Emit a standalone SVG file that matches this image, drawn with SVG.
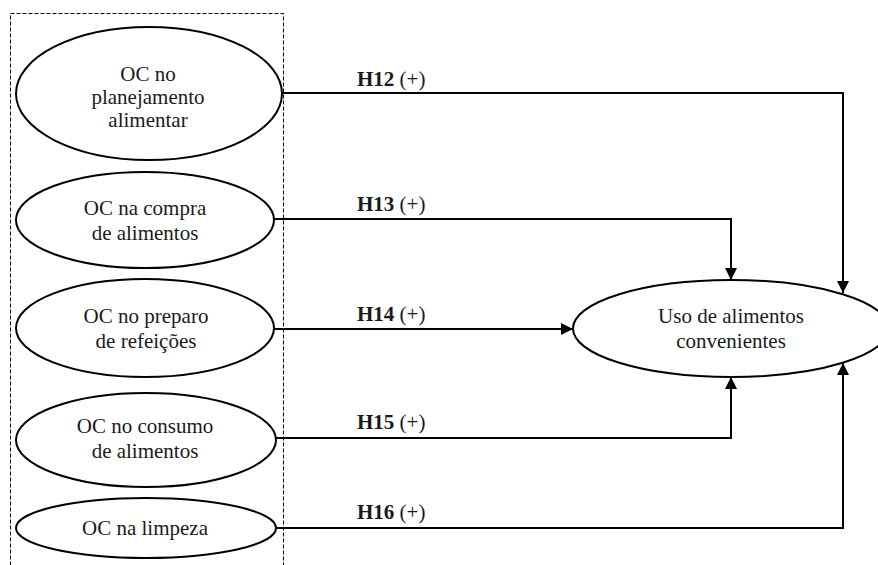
<svg xmlns="http://www.w3.org/2000/svg" width="878" height="565" viewBox="0 0 878 565">
  <style>
    .node ellipse { fill: #ffffff; stroke: #000000; stroke-width: 2; }
    .node text { font-size: 21px; fill: #1a1a1a; text-anchor: middle; }
    .edges path { fill: none; stroke: #000000; stroke-width: 2; }
    .lbl { font-size: 21px; fill: #1a1a1a; }
    .lbl .b { font-weight: bold; }
    .group-box { fill: none; stroke: #000000; stroke-width: 1; stroke-dasharray: 4 2; }
  </style>
  <defs>
    <marker id="arrow" viewBox="0 0 12 12" refX="12" refY="6" markerWidth="12" markerHeight="12" markerUnits="userSpaceOnUse" orient="auto">
      <path d="M0,0 L12,6 L0,12 Z" fill="#000000"/>
    </marker>
  </defs>
  <rect width="878" height="565" fill="#ffffff"/>

  <g font-family="Liberation Serif, DejaVu Serif, serif">
  <!-- grouping box around the antecedent constructs -->
  <rect class="group-box" x="10.5" y="13.5" width="273" height="570"/>

  <!-- connectors -->
  <g id="edges" class="edges">
    <path d="M282,93 H843 V293" marker-end="url(#arrow)"/>
    <path d="M274,219 H731 V280" marker-end="url(#arrow)"/>
    <path d="M274,329 H573" marker-end="url(#arrow)"/>
    <path d="M276,438 H731 V377" marker-end="url(#arrow)"/>
    <path d="M276,528 H843 V363" marker-end="url(#arrow)"/>
  </g>

  <!-- hypothesis labels -->
  <g id="labels">
    <text class="lbl" x="357" y="86"><tspan class="b">H12</tspan> (+)</text>
    <text class="lbl" x="357" y="211"><tspan class="b">H13</tspan> (+)</text>
    <text class="lbl" x="357" y="321"><tspan class="b">H14</tspan> (+)</text>
    <text class="lbl" x="357" y="429"><tspan class="b">H15</tspan> (+)</text>
    <text class="lbl" x="357" y="519"><tspan class="b">H16</tspan> (+)</text>
  </g>

  <g id="n-planejamento" class="node">
    <ellipse cx="149" cy="93.5" rx="133" ry="66.5"/>
    <text x="148" y="81">OC no</text>
    <text x="148" y="104">planejamento</text>
    <text x="148" y="127">alimentar</text>
  </g>

  <g id="n-compra" class="node">
    <ellipse cx="145" cy="220" rx="129" ry="48"/>
    <text x="145" y="215">OC na compra</text>
    <text x="145" y="240">de alimentos</text>
  </g>

  <g id="n-preparo" class="node">
    <ellipse cx="145" cy="328" rx="129" ry="49"/>
    <text x="146" y="323">OC no preparo</text>
    <text x="146" y="348">de refeições</text>
  </g>

  <g id="n-consumo" class="node">
    <ellipse cx="146" cy="440" rx="130" ry="47"/>
    <text x="145" y="433">OC no consumo</text>
    <text x="145" y="458">de alimentos</text>
  </g>

  <g id="n-limpeza" class="node">
    <ellipse cx="146" cy="528" rx="130" ry="30"/>
    <text x="145" y="535">OC na limpeza</text>
  </g>

  <g id="n-uso" class="node">
    <ellipse cx="731" cy="328.5" rx="158" ry="48.5"/>
    <text x="731" y="323">Uso de alimentos</text>
    <text x="731" y="348">convenientes</text>
  </g>
  </g>
</svg>
